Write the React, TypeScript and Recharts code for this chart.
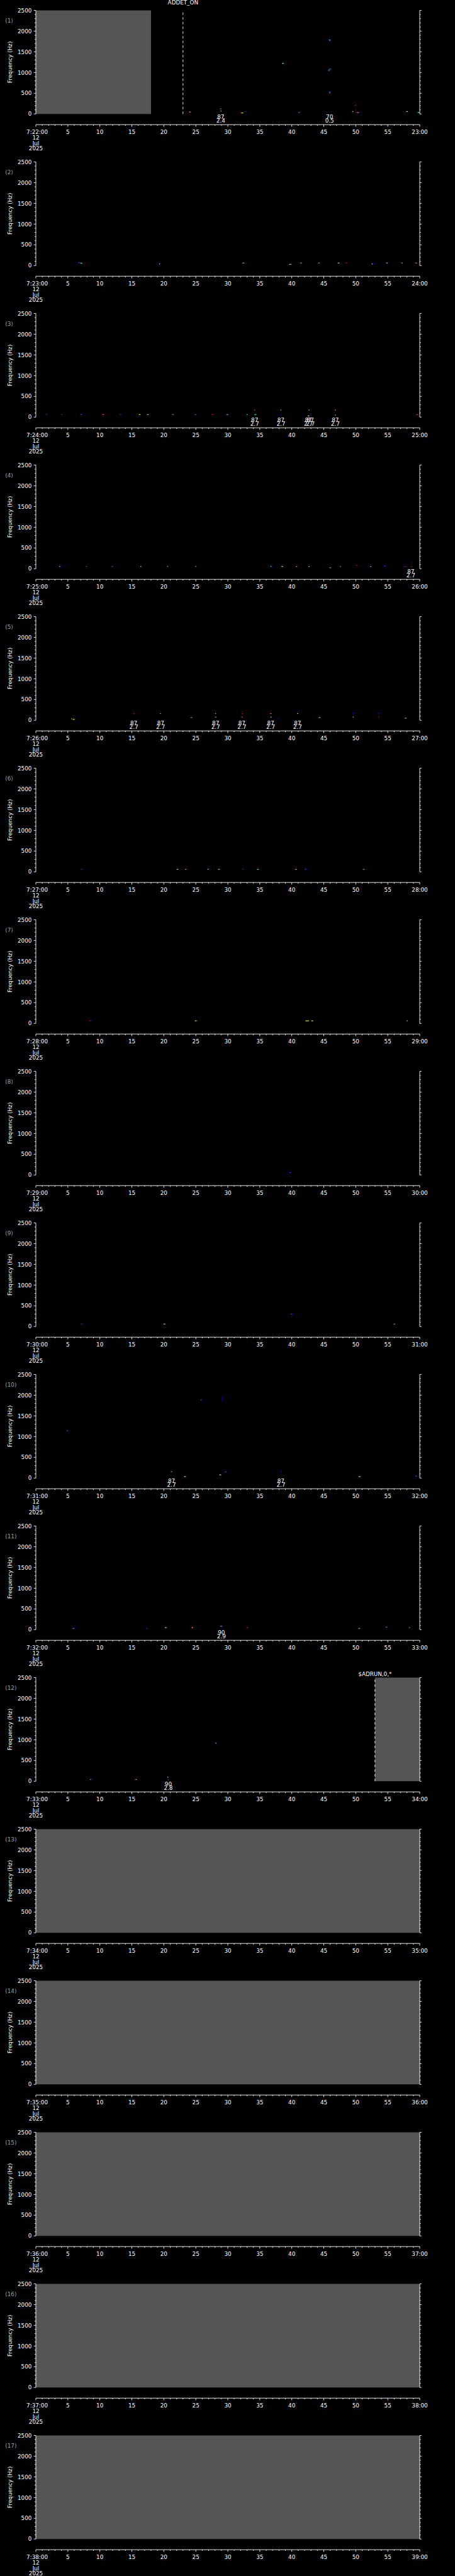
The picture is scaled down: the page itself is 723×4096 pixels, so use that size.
import React from 'react';
import {
  ComposedChart,
  Scatter,
  XAxis,
  YAxis,
  ReferenceArea,
  ReferenceLine,
} from 'recharts';

// ---- data -----------------------------------------------------------------

const PANEL_START = [
  '7:22:00', '7:23:00', '7:24:00', '7:25:00', '7:26:00', '7:27:00', '7:28:00', '7:29:00', '7:30:00',
  '7:31:00', '7:32:00', '7:33:00', '7:34:00', '7:35:00', '7:36:00', '7:37:00', '7:38:00',
];
const PANEL_END = [
  '23:00', '24:00', '25:00', '26:00', '27:00', '28:00', '29:00', '30:00', '31:00',
  '32:00', '33:00', '34:00', '35:00', '36:00', '37:00', '38:00', '39:00',
];
const DATE_LINES = ['12', 'Jul', '2025'];

const X_TICKS = [
  0, 1, 2, 3, 4, 5, 6, 7, 8, 9, 10, 11, 12, 13, 14, 15, 16, 17, 18, 19, 20,
  21, 22, 23, 24, 25, 26, 27, 28, 29, 30, 31, 32, 33, 34, 35, 36, 37, 38, 39, 40,
  41, 42, 43, 44, 45, 46, 47, 48, 49, 50, 51, 52, 53, 54, 55, 56, 57, 58, 59, 60,
];
const X_LABELS = ['', '5', '10', '15', '20', '25', '30', '35', '40', '45', '50', '55', ''];

const Y_TICKS = [
  0, 100, 200, 300, 400, 500, 600, 700, 800, 900, 1000, 1100, 1200,
  1300, 1400, 1500, 1600, 1700, 1800, 1900, 2000, 2100, 2200, 2300, 2400, 2500,
];
const Y_LABELS = ['0', '500', '1000', '1500', '2000', '2500'];

// grey "no data" blocks: [panel, from s, to s]
const SHADED = [
  { panel: 1, from: 0, to: 18 },
  { panel: 12, from: 53, to: 60 },
  { panel: 13, from: 0, to: 60 },
  { panel: 14, from: 0, to: 60 },
  { panel: 15, from: 0, to: 60 },
  { panel: 16, from: 0, to: 60 },
  { panel: 17, from: 0, to: 60 },
];

const EVENTS = [
  { panel: 1, t: 23, name: 'ADDET_ON' },
  { panel: 12, t: 53, name: '$ADRUN,0,*' },
];

// detections annotated under the spectrogram
const NOTES = [
  { panel: 1, t: 28.9, a: '87', b: '2.4' },
  { panel: 1, t: 45.9, a: '70', b: '0.5' },
  { panel: 3, t: 34.2, a: '87', b: '2.7' },
  { panel: 3, t: 38.3, a: '87', b: '2.7' },
  { panel: 3, t: 42.6, a: '87', b: '2.7' },
  { panel: 3, t: 42.9, a: '87', b: '2.7' },
  { panel: 3, t: 46.8, a: '87', b: '2.7' },
  { panel: 4, t: 58.6, a: '87', b: '2.7' },
  { panel: 5, t: 15.3, a: '87', b: '2.7' },
  { panel: 5, t: 19.5, a: '87', b: '2.7' },
  { panel: 5, t: 28.1, a: '87', b: '2.7' },
  { panel: 5, t: 32.2, a: '87', b: '2.7' },
  { panel: 5, t: 36.7, a: '87', b: '2.7' },
  { panel: 5, t: 40.9, a: '87', b: '2.7' },
  { panel: 10, t: 21.2, a: '87', b: '2.7' },
  { panel: 10, t: 38.3, a: '87', b: '2.7' },
  { panel: 11, t: 29.0, a: '90', b: '2.9' },
  { panel: 12, t: 20.7, a: '90', b: '2.8' },
];

// spectrogram specks: t (s), f (Hz), c = colour letters left to right
const SPECKS_P1 = [
  { t: 24.1, f: 47, c: 'ryb' }, { t: 28.9, f: 122, c: 'c' }, { t: 28.9, f: 72, c: 'rg' },
  { t: 32.2, f: 26, c: 'ryy' }, { t: 32.8, f: 58, c: 'db' }, { t: 38.6, f: 1221, c: 'cy' },
  { t: 41.2, f: 36, c: 'ob' }, { t: 45.9, f: 1786, c: 'll' }, { t: 45.95, f: 1770, c: 'l' },
  { t: 46.0, f: 1082, c: 'll' }, { t: 45.85, f: 1065, c: 'l' }, { t: 45.8, f: 1050, c: 'll' },
  { t: 45.95, f: 530, c: 'lb' }, { t: 45.95, f: 515, c: 'l' }, { t: 45.95, f: 500, c: 'r' },
  { t: 50.0, f: 208, c: 'rb' }, { t: 50.0, f: 100, c: 'd' }, { t: 50.3, f: 36, c: 'rryb' },
  { t: 49.6, f: 58, c: 'yb' }, { t: 58.0, f: 58, c: 'oy' }, { t: 59.8, f: 36, c: 'cy' },
];
const SPECKS_P2 = [
  { t: 6.7, f: 71, c: 'bl' }, { t: 7.1, f: 57, c: 'cy' }, { t: 19.4, f: 39, c: 'yb' },
  { t: 32.4, f: 61, c: 'rcl' }, { t: 39.8, f: 29, c: 'ycl' }, { t: 41.4, f: 61, c: 'rc' },
  { t: 44.2, f: 61, c: 'rc' }, { t: 47.3, f: 61, c: 'oy' }, { t: 48.6, f: 61, c: 'rb' },
  { t: 52.7, f: 39, c: 'ybb' }, { t: 54.9, f: 61, c: 'ryb' }, { t: 57.0, f: 71, c: 'd' },
  { t: 57.2, f: 61, c: 'dc' }, { t: 59.4, f: 61, c: 'rg' },
];
const SPECKS_P3 = [
  { t: 1.7, f: 61, c: 'rb' }, { t: 4.1, f: 61, c: 'rb' }, { t: 7.1, f: 61, c: 'lb' },
  { t: 10.5, f: 61, c: 'ro' }, { t: 13.3, f: 61, c: 'rb' }, { t: 16.2, f: 61, c: 'oy' },
  { t: 17.5, f: 61, c: 'gc' }, { t: 21.4, f: 61, c: 'ro' }, { t: 24.9, f: 61, c: 'bl' },
  { t: 27.6, f: 61, c: 'rd' }, { t: 29.9, f: 61, c: 'lc' }, { t: 33.0, f: 61, c: 'c' },
  { t: 34.3, f: 61, c: 'gc' }, { t: 34.2, f: 168, c: 'm' }, { t: 38.3, f: 61, c: 'b' },
  { t: 38.3, f: 168, c: 'g' }, { t: 42.7, f: 168, c: 'g' }, { t: 42.7, f: 29, c: 'yyb' },
  { t: 46.8, f: 168, c: 'o' }, { t: 46.8, f: 50, c: 'c' }, { t: 59.6, f: 61, c: 'mr' },
];
const SPECKS_P4 = [
  { t: 3.8, f: 54, c: 'yb' }, { t: 7.9, f: 54, c: 'l' }, { t: 12.0, f: 54, c: 'lb' },
  { t: 16.4, f: 54, c: 'y' }, { t: 20.6, f: 54, c: 'g' }, { t: 25.0, f: 54, c: 'c' },
  { t: 36.8, f: 54, c: 'cb' }, { t: 38.5, f: 54, c: 'oy' }, { t: 40.7, f: 54, c: 'ro' },
  { t: 42.7, f: 54, c: 'y' }, { t: 46.0, f: 22, c: 'lc' }, { t: 47.6, f: 54, c: 'o' },
  { t: 50.1, f: 76, c: 'r' }, { t: 52.4, f: 54, c: 'yb' }, { t: 54.5, f: 65, c: 'bl' },
  { t: 57.7, f: 54, c: 'rb' }, { t: 58.7, f: 162, c: 'b' }, { t: 58.7, f: 54, c: 'r' },
];
const SPECKS_P5 = [
  { t: 5.6, f: 33, c: 'c' }, { t: 5.8, f: 22, c: 'ry' }, { t: 6.0, f: 22, c: 'y' },
  { t: 15.3, f: 163, c: 'r' }, { t: 19.5, f: 163, c: 'o' }, { t: 24.3, f: 65, c: 'lo' },
  { t: 28.1, f: 163, c: 'g' }, { t: 28.1, f: 76, c: 'lo' }, { t: 32.2, f: 163, c: 'r' },
  { t: 32.2, f: 76, c: 'o' }, { t: 36.7, f: 163, c: 'ro' }, { t: 36.7, f: 76, c: 'rg' },
  { t: 37.9, f: 33, c: 'b' }, { t: 40.9, f: 163, c: 'y' }, { t: 44.3, f: 65, c: 'ly' },
  { t: 49.6, f: 170, c: 'bb' }, { t: 49.6, f: 76, c: 'g' }, { t: 53.6, f: 170, c: 'bb' },
  { t: 53.6, f: 76, c: 'r' }, { t: 57.8, f: 51, c: 'co' },
];
const SPECKS_P6 = [
  { t: 7.2, f: 60, c: 'rb' }, { t: 22.1, f: 60, c: 'ly' }, { t: 23.4, f: 60, c: 'rc' },
  { t: 27.0, f: 60, c: 'yb' }, { t: 28.6, f: 60, c: 'oc' }, { t: 32.4, f: 60, c: 'rb' },
  { t: 34.7, f: 60, c: 'gc' }, { t: 40.6, f: 60, c: 'ry' }, { t: 42.2, f: 60, c: 'lb' },
  { t: 51.2, f: 60, c: 'rc' },
];
const SPECKS_P7 = [
  { t: 8.5, f: 60, c: 'rb' }, { t: 25.0, f: 60, c: 'yc' }, { t: 42.4, f: 60, c: 'yyyy' },
  { t: 43.2, f: 60, c: 'yy' }, { t: 58.0, f: 60, c: 'rc' },
];
const SPECKS_P8 = [
  { t: 39.8, f: 60, c: 'lb' },
];
const SPECKS_P9 = [
  { t: 7.2, f: 60, c: 'rb' }, { t: 20.1, f: 60, c: 'yc' }, { t: 40.0, f: 300, c: 'lb' },
  { t: 56.0, f: 60, c: 'rc' },
];
const SPECKS_P10 = [
  { t: 4.9, f: 1141, c: 'bl' }, { t: 21.2, f: 154, c: 'ro' }, { t: 23.3, f: 36, c: 'yg' },
  { t: 25.9, f: 1883, c: 'lb' }, { t: 28.8, f: 79, c: 'cy' }, { t: 29.1, f: 1900, c: 'b' },
  { t: 29.1, f: 1870, c: 'b' }, { t: 29.05, f: 1935, c: 'b' }, { t: 29.6, f: 151, c: 'bl' },
  { t: 38.3, f: 154, c: 'b' }, { t: 50.6, f: 36, c: 'yc' }, { t: 59.4, f: 47, c: 'bl' },
];
const SPECKS_P11 = [
  { t: 5.9, f: 29, c: 'rcb' }, { t: 17.3, f: 29, c: 'br' }, { t: 20.3, f: 50, c: 'yc' },
  { t: 24.4, f: 50, c: 'ry' }, { t: 29.0, f: 83, c: 'cl' }, { t: 29.0, f: 18, c: 'b' },
  { t: 33.0, f: 50, c: 'r' }, { t: 50.5, f: 29, c: 'ry' }, { t: 54.8, f: 61, c: 'll' },
  { t: 58.4, f: 50, c: 'o' },
];
const SPECKS_P12 = [
  { t: 8.6, f: 43, c: 'cb' }, { t: 15.6, f: 43, c: 'rc' }, { t: 20.7, f: 96, c: 'yb' },
  { t: 20.7, f: 32, c: 'l' }, { t: 28.1, f: 918, c: 'bc' },
];

const SPECKS = [
  SPECKS_P1, SPECKS_P2, SPECKS_P3, SPECKS_P4, SPECKS_P5, SPECKS_P6, SPECKS_P7, SPECKS_P8,
  SPECKS_P9, SPECKS_P10, SPECKS_P11, SPECKS_P12, [], [], [], [], [],
];

// ---- layout (reference px scaled to the window) ----------------------------

const S = 723 / 1024;
const W = 723;
const H = 241;
const PLOT_TOP = 23.3 * S;
const LEFT_W = 80.7 * S;
const RIGHT_W = (1024 - 944.7) * S;
const AXIS_Y = 280.7 * S;
const X_AXIS_H = H - AXIS_Y;
const Y_MIN = -257; // frequency level of the separated time axis
const FONT = '"DejaVu Sans", sans-serif';
const FS = 8.8;
const LW = 0.9;
const EVENT_OFFSET: Record<number, number> = { 1: 9.2, 12: 2.4 };

const PALETTE: Record<string, string> = {
  r: '#ff0000',
  o: '#ff8c00',
  y: '#ffff00',
  g: '#40ff60',
  c: '#00ffff',
  l: '#0090ff',
  b: '#0000ff',
  d: '#a00000',
  m: '#ff40a0',
};

function XTick(props: any) {
  const { x, y, payload, start, end } = props;
  const v = payload.value as number;
  const major = v % 5 === 0;
  const len = (major ? 4.7 : 2.7) * S;
  let text = major ? X_LABELS[v / 5] : '';
  if (v === 0) text = start;
  if (v === 60) text = end;
  return (
    <g>
      <line x1={x} x2={x} y1={y} y2={y + len} stroke="#fff" strokeWidth={LW} />
      {text && (
        <text x={x + (v === 0 ? 2.1 : 0)} y={y + 14.5} textAnchor="middle" fill="#fff" fontSize={FS} fontFamily={FONT}>
          {text}
        </text>
      )}
      {v === 0 &&
        DATE_LINES.map((d, i) => (
          <text key={d} x={x} y={y + [23.9, 32.4, 40.5][i]} textAnchor="middle" fill="#fff" fontSize={FS} fontFamily={FONT}>
            {d}
          </text>
        ))}
    </g>
  );
}

function LeftTick(props: any) {
  const { x, y, payload } = props;
  const v = payload.value as number;
  const major = v % 500 === 0;
  const len = (major ? 4.7 : 2.7) * S;
  return (
    <g>
      <line x1={x - len} x2={x} y1={y} y2={y} stroke="#fff" strokeWidth={LW} />
      {major && (
        <text x={x - 6.6} y={y + 3.2} textAnchor="end" fill="#fff" fontSize={FS} fontFamily={FONT}>
          {Y_LABELS[v / 500]}
        </text>
      )}
    </g>
  );
}

function RightTick(props: any) {
  const { x, y, payload } = props;
  const major = (payload.value as number) % 500 === 0;
  const len = (major ? 4 : 2.3) * S;
  return <line x1={x} x2={x + len} y1={y} y2={y} stroke="#fff" strokeWidth={LW} />;
}

function PanelLabels({ n }: { n: number }) {
  return (
    <g>
      <text x={8.3} y={36.4} fill="#a0a0a0" fontSize={FS} fontFamily={FONT}>
        ({n})
      </text>
      <text
        x={18.6}
        y={98.8}
        transform="rotate(-90 18.6 98.8)"
        textAnchor="middle"
        fill="#fff"
        fontSize={FS}
        fontFamily={FONT}
      >
        Frequency (Hz)
      </text>
    </g>
  );
}

const SEG_W = 2 * S;
const SEG_H = 1.7 * S;

function Speck(props: any) {
  const { cx, cy, payload } = props;
  if (cx == null || cy == null) return null;
  const cols = (payload.c as string).split('');
  const x0 = cx - (cols.length * SEG_W) / 2;
  return (
    <g>
      {cols.map((ch, i) => (
        <rect key={i} x={x0 + i * SEG_W} y={cy - SEG_H / 2} width={SEG_W} height={SEG_H} fill={PALETTE[ch]} />
      ))}
    </g>
  );
}

function Note(props: any) {
  const { cx, cy, payload } = props;
  if (cx == null || cy == null) return null;
  return (
    <g>
      <text x={cx} y={cy + 7.4} textAnchor="middle" fill="#fff" fontSize={FS} fontFamily={FONT}>
        {payload.a}
      </text>
      <text x={cx} y={cy + 14.2} textAnchor="middle" fill="#fff" fontSize={FS} fontFamily={FONT}>
        {payload.b}
      </text>
    </g>
  );
}

function Panel({ idx }: { idx: number }) {
  const n = idx + 1;
  const specks = SPECKS[idx];
  const notes = NOTES.filter((d) => d.panel === n).map((d) => ({ ...d, f: 0 }));
  const shaded = SHADED.filter((d) => d.panel === n);
  const events = EVENTS.filter((d) => d.panel === n);

  return (
    <ComposedChart width={W} height={H} margin={{ top: PLOT_TOP, right: 0, bottom: 0, left: 0 }}>
      <XAxis
        type="number"
        dataKey="t"
        domain={[0, 60]}
        ticks={X_TICKS}
        interval={0}
        allowDataOverflow
        height={X_AXIS_H}
        tickLine={false}
        tickSize={0}
        tickMargin={0}
        axisLine={{ stroke: '#fff', strokeWidth: LW }}
        tick={(p: any) => <XTick {...p} start={PANEL_START[idx]} end={PANEL_END[idx]} />}
      />
      <YAxis
        yAxisId="l"
        type="number"
        dataKey="f"
        domain={[Y_MIN, 2500]}
        ticks={Y_TICKS}
        interval={0}
        allowDataOverflow
        width={LEFT_W}
        axisLine={false}
        tickLine={false}
        tickSize={0}
        tickMargin={0}
        tick={(p: any) => <LeftTick {...p} />}
        label={<PanelLabels n={n} />}
      />
      <YAxis
        yAxisId="r"
        orientation="right"
        type="number"
        domain={[Y_MIN, 2500]}
        ticks={Y_TICKS}
        interval={0}
        allowDataOverflow
        width={RIGHT_W}
        axisLine={false}
        tickLine={false}
        tickSize={0}
        tickMargin={0}
        tick={(p: any) => <RightTick {...p} />}
      />
      {shaded.map((d, i) => (
        <ReferenceArea
          key={`s${i}`}
          yAxisId="l"
          x1={d.from}
          x2={d.to}
          y1={0}
          y2={2500}
          fill="#555555"
          fillOpacity={1}
          stroke="none"
        />
      ))}
      <ReferenceLine yAxisId="l" segment={[{ x: 0, y: 0 }, { x: 0, y: 2500 }]} stroke="#fff" strokeWidth={LW} />
      <ReferenceLine yAxisId="l" segment={[{ x: 60, y: 0 }, { x: 60, y: 2500 }]} stroke="#fff" strokeWidth={LW} />
      {events.map((e) => (
        <ReferenceLine
          key={e.name}
          yAxisId="l"
          segment={[{ x: e.t, y: 0 }, { x: e.t, y: 2500 }]}
          stroke="#fff"
          strokeWidth={LW}
          strokeDasharray="4 3.5"
          label={{
            value: e.name,
            position: 'top',
            offset: EVENT_OFFSET[n],
            fill: '#fff',
            fontSize: FS,
            fontFamily: FONT,
          }}
        />
      ))}
      <Scatter yAxisId="l" data={specks} shape={(p: any) => <Speck {...p} />} isAnimationActive={false} />
      <Scatter yAxisId="l" data={notes} shape={(p: any) => <Note {...p} />} isAnimationActive={false} />
    </ComposedChart>
  );
}

export default function App() {
  return (
    <div style={{ position: 'absolute', left: 0, top: 0, width: W, background: '#000' }}>
      {PANEL_START.map((_, i) => (
        <div key={i} style={{ width: W, height: H }}>
          <Panel idx={i} />
        </div>
      ))}
    </div>
  );
}
